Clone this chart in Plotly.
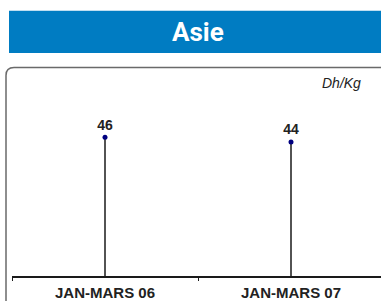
import plotly.graph_objects as go

W, H = 381, 301
categories = ["JAN-MARS 06", "JAN-MARS 07"]
values = [46, 44]
title = "Asie"
unit = "Dh/Kg"

def px(x):
    return x / W

def py(y):
    return (H - y) / H

xs = list(range(len(categories)))
y_bottom = -10.8
y_top = 74

stem_x, stem_y = [], []
for xi, v in zip(xs, values):
    stem_x += [xi, xi, None]
    stem_y += [y_bottom, v, None]

fig = go.Figure()
fig.add_trace(go.Scatter(x=stem_x, y=stem_y, mode="lines",
                         line=dict(color="#1a1a1a", width=1.5),
                         hoverinfo="skip", showlegend=False))
fig.add_trace(go.Scatter(x=xs, y=values, mode="markers+text",
                         marker=dict(color="#000080", size=5),
                         text=[str(v) for v in values], textposition="top center",
                         textfont=dict(family="Liberation Sans, Arial", size=14, color="#222222", weight="bold"),
                         showlegend=False))

font_main = "Liberation Sans, Arial"
fig.update_layout(
    width=W, height=H,
    margin=dict(l=0, r=0, t=0, b=0),
    paper_bgcolor="white", plot_bgcolor="white",
    showlegend=False,
    xaxis=dict(domain=[px(12), 1], range=[-0.5, (381 - 105) / 186],
               tickvals=xs, ticktext=categories, ticks="",
               tickfont=dict(family=font_main, size=15, color="#222222", weight="bold"),
               showline=True, linecolor="#1a1a1a", linewidth=1.5,
               showgrid=False, zeroline=False,
               minor=dict(tickvals=[-0.5, 0.5], ticks="outside", ticklen=3, tickcolor="#1a1a1a", tickwidth=1),
               ticklabelstandoff=2),
    yaxis=dict(domain=[py(282), py(70)], range=[y_bottom, y_top],
               visible=False, showgrid=False, zeroline=False),
    shapes=[
        dict(type="rect", xref="paper", yref="paper",
             x0=px(9), x1=px(390), y0=py(54), y1=py(11),
             fillcolor="#007CC2", line=dict(width=0), layer="below"),
        dict(type="path", xref="paper", yref="paper",
             path=(f"M {px(6)},{py(320)} L {px(6)},{py(77)} "
                   f"Q {px(6)},{py(69)} {px(14)},{py(69)} L {px(400)},{py(69)}"),
             line=dict(color="#6a6a6a", width=1.5)),
    ],
    annotations=[
        dict(text=title, xref="paper", yref="paper", x=px(198), y=py(33),
             xanchor="center", yanchor="middle", showarrow=False,
             font=dict(family="Roboto", size=26, color="white", weight="bold")),
        dict(text=unit, xref="paper", yref="paper", x=px(363), y=py(85),
             xanchor="right", yanchor="middle", showarrow=False,
             font=dict(family=font_main, size=14, color="#222222", style="italic")),
    ],
)

fig.write_html("out.html", config={"displayModeBar": False},
               post_script="document.body.style.margin='0';document.body.style.overflow='hidden';")
